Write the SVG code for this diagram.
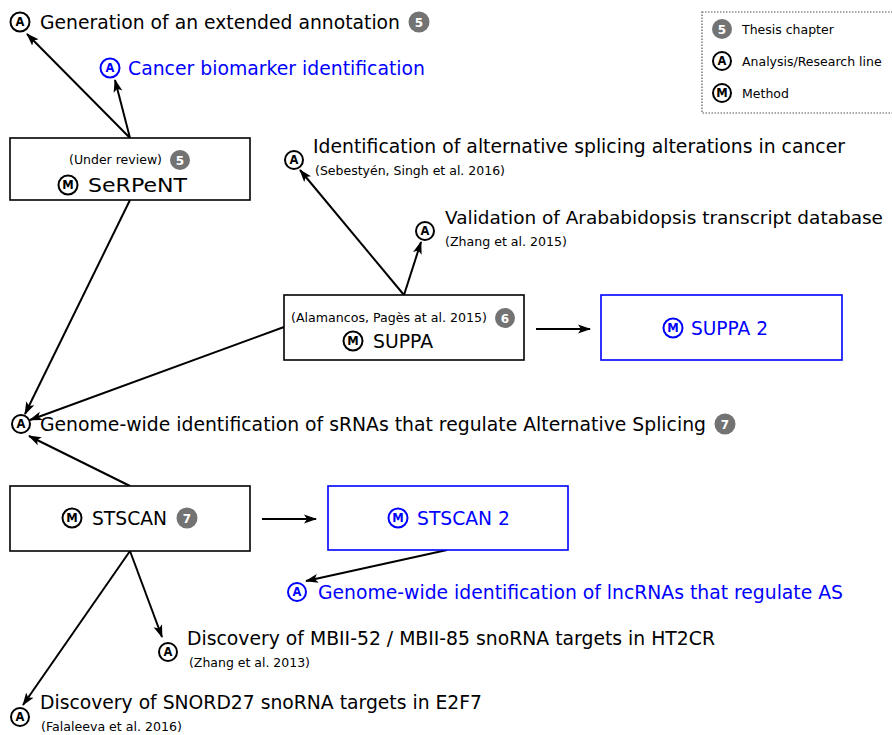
<svg xmlns="http://www.w3.org/2000/svg" width="892" height="735" viewBox="0 0 892 735">
<style>
text{font-family:"DejaVu Sans","Liberation Sans",sans-serif;}
.t{font-size:19px;fill:#000;}
.tb{font-size:19px;fill:#0000ff;}
.bx{font-size:20px;fill:#000;}
.bxb{font-size:20px;fill:#0000ff;}
.s{font-size:12px;fill:#000;}
.lg{font-size:12.5px;fill:#000;}
.ic{fill:#fff;stroke:#000;stroke-width:2;}
.icb{fill:#fff;stroke:#0000ff;stroke-width:2;}
.il{font-size:11.5px;font-weight:bold;text-anchor:middle;fill:#000;}
.ilb{font-size:11.5px;font-weight:bold;text-anchor:middle;fill:#0000ff;}
.bd{fill:#737373;}
.bl{font-size:12px;font-weight:bold;text-anchor:middle;fill:#fff;}
.box{fill:#fff;stroke:#000;stroke-width:1.6;}
.boxb{fill:#fff;stroke:#0000ff;stroke-width:1.6;}
.c{fill:none;stroke:#000;stroke-width:2;marker-end:url(#ah);}
</style>
<defs>
<marker id="ah" markerUnits="userSpaceOnUse" markerWidth="14" markerHeight="10" refX="12" refY="5" orient="auto">
<path d="M0,0.5 L13,5 L0,9.5 L3,5 z" fill="#000"/>
</marker>
</defs>
<rect width="892" height="735" fill="#fff"/>

<g id="connectors">
<line class="c" x1="130" y1="138" x2="27" y2="34"/>
<line class="c" x1="130" y1="138" x2="115" y2="80"/>
<line class="c" x1="404" y1="295" x2="300" y2="170"/>
<line class="c" x1="404" y1="295" x2="421" y2="242"/>
<line class="c" x1="536" y1="329" x2="590" y2="329"/>
<line class="c" x1="130" y1="200" x2="25" y2="414"/>
<line class="c" x1="284" y1="327" x2="30" y2="420"/>
<line class="c" x1="130" y1="486" x2="29" y2="436"/>
<line class="c" x1="262" y1="519" x2="316" y2="519"/>
<line class="c" x1="447" y1="550" x2="306" y2="581"/>
<line class="c" x1="130" y1="551" x2="162" y2="637"/>
<line class="c" x1="130" y1="551" x2="23" y2="705"/>
</g>

<g id="legend">
<rect x="702" y="12" width="195" height="101" fill="#fff" stroke="#555" stroke-width="1.2" stroke-dasharray="1.5,1.5"/>
<circle class="bd" cx="722" cy="29" r="10"/><text class="bl" x="722" y="33.5">5</text>
<text class="lg" x="742" y="34">Thesis chapter</text>
<circle class="ic" cx="722" cy="61" r="9"/><text class="il" x="722" y="65">A</text>
<text class="lg" x="742" y="66">Analysis/Research line</text>
<circle class="ic" cx="722" cy="93" r="9"/><text class="il" x="722" y="97">M</text>
<text class="lg" x="742" y="98">Method</text>
</g>

<g id="a-generation">
<circle class="ic" cx="20" cy="22" r="9.5"/><text class="il" x="20" y="26">A</text>
<text class="t" x="40" y="29" textLength="360" lengthAdjust="spacingAndGlyphs">Generation of an extended annotation</text>
<circle class="bd" cx="419" cy="22" r="10.5"/><text class="bl" x="419" y="26.5">5</text>
</g>

<g id="a-cancer">
<circle class="icb" cx="110" cy="68" r="9.5"/><text class="ilb" x="110" y="72">A</text>
<text class="tb" x="128" y="75" textLength="297" lengthAdjust="spacingAndGlyphs">Cancer biomarker identification</text>
</g>

<g id="serpent">
<rect class="box" x="10" y="138" width="240" height="62"/>
<text class="s" x="69" y="164" textLength="93" lengthAdjust="spacingAndGlyphs">(Under review)</text>
<circle class="bd" cx="180" cy="160" r="10"/><text class="bl" x="180" y="164.5">5</text>
<circle class="ic" cx="68" cy="185" r="9.5"/><text class="il" x="68" y="189">M</text>
<text class="bx" x="88" y="192" textLength="99" lengthAdjust="spacingAndGlyphs">SeRPeNT</text>
</g>

<g id="a-splicing-cancer">
<circle class="ic" cx="294" cy="160" r="9"/><text class="il" x="294" y="164">A</text>
<text class="t" x="313" y="153" textLength="532" lengthAdjust="spacingAndGlyphs">Identification of alternative splicing alterations in cancer</text>
<text class="s" x="315" y="175" textLength="190" lengthAdjust="spacingAndGlyphs">(Sebestyén, Singh et al. 2016)</text>
</g>

<g id="a-arabidopsis">
<circle class="ic" cx="425" cy="231" r="9"/><text class="il" x="425" y="235">A</text>
<text class="t" x="445" y="224" style="font-size:17.5px" textLength="438" lengthAdjust="spacingAndGlyphs">Validation of Arababidopsis transcript database</text>
<text class="s" x="445" y="246" textLength="122" lengthAdjust="spacingAndGlyphs">(Zhang et al. 2015)</text>
</g>

<g id="suppa">
<rect class="box" x="284" y="295" width="240" height="65"/>
<text class="s" x="291" y="322" textLength="196" lengthAdjust="spacingAndGlyphs">(Alamancos, Pagès at al. 2015)</text>
<circle class="bd" cx="505" cy="318" r="10"/><text class="bl" x="505" y="322.5">6</text>
<circle class="ic" cx="353" cy="341" r="9.5"/><text class="il" x="353" y="345">M</text>
<text class="bx" x="373" y="348" textLength="60" lengthAdjust="spacingAndGlyphs">SUPPA</text>
</g>

<g id="suppa2">
<rect class="boxb" x="601" y="295" width="241" height="65"/>
<circle class="icb" cx="673" cy="328" r="9.5"/><text class="ilb" x="673" y="332">M</text>
<text class="bxb" x="691" y="335" textLength="77" lengthAdjust="spacingAndGlyphs">SUPPA 2</text>
</g>

<g id="a-srnas">
<circle class="ic" cx="21" cy="424" r="9"/><text class="il" x="21" y="428">A</text>
<text class="t" x="40" y="431" textLength="666" lengthAdjust="spacingAndGlyphs">Genome-wide identification of sRNAs that regulate Alternative Splicing</text>
<circle class="bd" cx="725" cy="424" r="10.5"/><text class="bl" x="725" y="428.5">7</text>
</g>

<g id="stscan">
<rect class="box" x="10" y="486" width="240" height="65"/>
<circle class="ic" cx="72" cy="518" r="9.5"/><text class="il" x="72" y="522">M</text>
<text class="bx" x="92" y="525" textLength="75" lengthAdjust="spacingAndGlyphs">STSCAN</text>
<circle class="bd" cx="187" cy="518" r="10.5"/><text class="bl" x="187" y="522.5">7</text>
</g>

<g id="stscan2">
<rect class="boxb" x="328" y="486" width="240" height="64"/>
<circle class="icb" cx="398" cy="518" r="9.5"/><text class="ilb" x="398" y="522">M</text>
<text class="bxb" x="417" y="525" textLength="93" lengthAdjust="spacingAndGlyphs">STSCAN 2</text>
</g>

<g id="a-lncrnas">
<circle class="icb" cx="297" cy="592" r="9"/><text class="ilb" x="297" y="596">A</text>
<text class="tb" x="318" y="599" textLength="525" lengthAdjust="spacingAndGlyphs">Genome-wide identification of lncRNAs that regulate AS</text>
</g>

<g id="a-mbii">
<circle class="ic" cx="168" cy="652" r="9"/><text class="il" x="168" y="656">A</text>
<text class="t" x="187" y="645" textLength="528" lengthAdjust="spacingAndGlyphs">Discovery of MBII-52 / MBII-85 snoRNA targets in HT2CR</text>
<text class="s" x="189" y="667" textLength="121" lengthAdjust="spacingAndGlyphs">(Zhang et al. 2013)</text>
</g>

<g id="a-snord27">
<circle class="ic" cx="20" cy="717" r="9"/><text class="il" x="20" y="721">A</text>
<text class="t" x="40" y="709" textLength="442" lengthAdjust="spacingAndGlyphs">Discovery of SNORD27 snoRNA targets in E2F7</text>
<text class="s" x="41" y="731" textLength="141" lengthAdjust="spacingAndGlyphs">(Falaleeva et al. 2016)</text>
</g>
</svg>
